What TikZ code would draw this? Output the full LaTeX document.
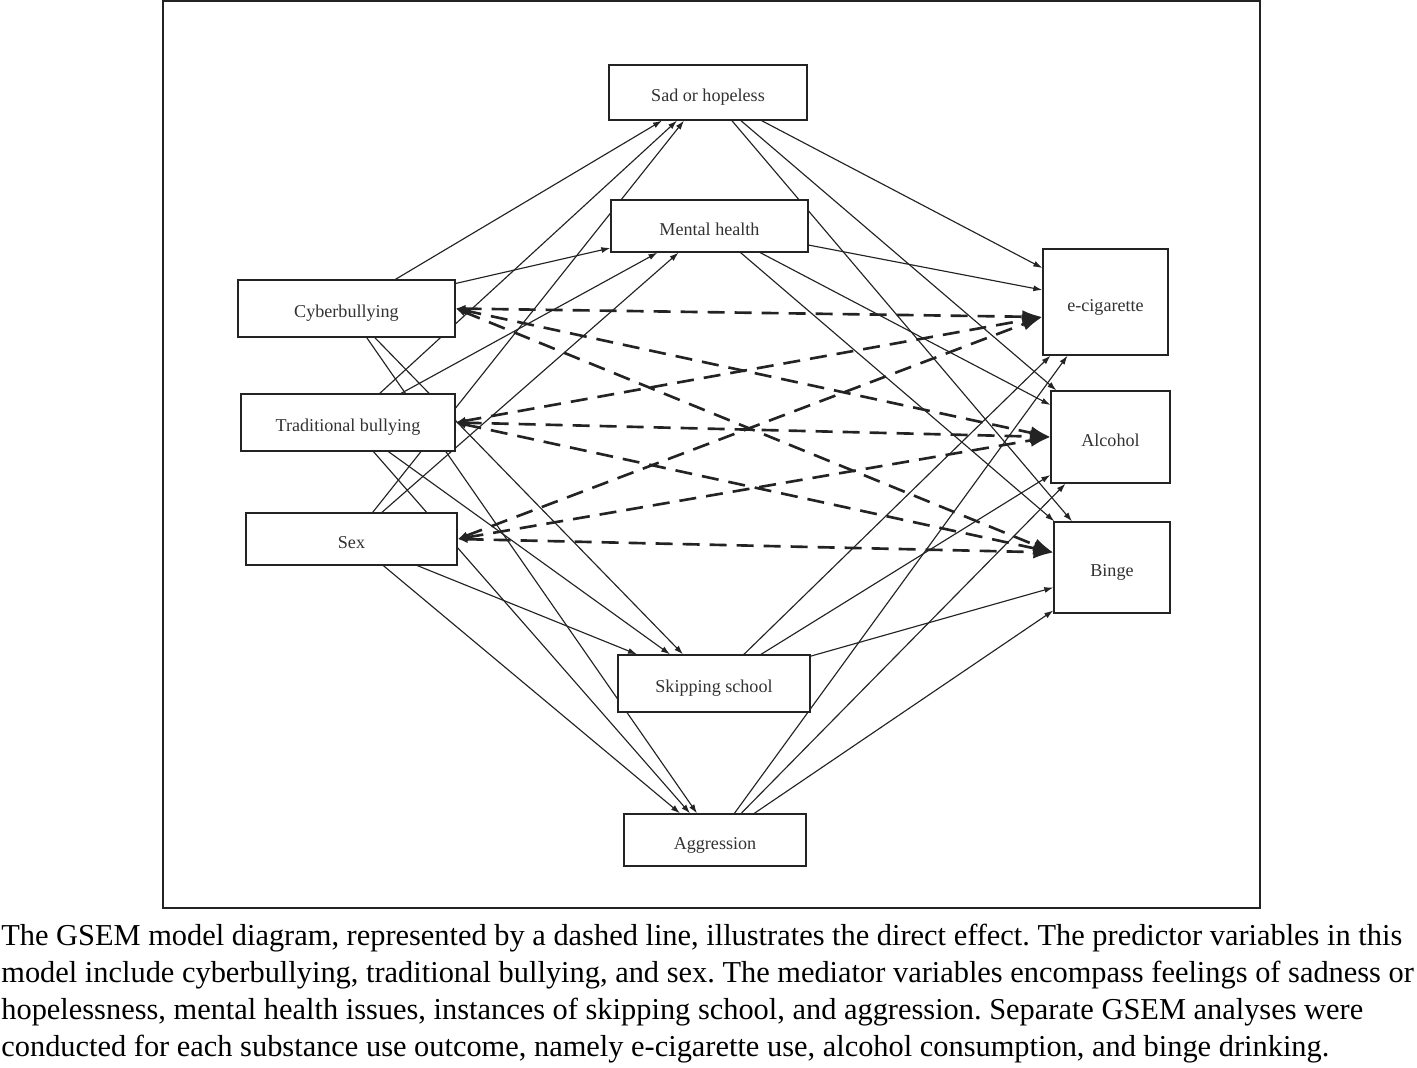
\documentclass[tikz,border=0pt]{standalone}
\usepackage{fontspec}
\setmainfont{Liberation Serif}
\frenchspacing
\usetikzlibrary{positioning, arrows.meta, calc, backgrounds}
\definecolor{GSEMink}{RGB}{35,35,35}
\definecolor{GSEMtext}{RGB}{50,50,50}
\tikzset{
  var/.style={rectangle, draw=GSEMink, line width=0.75pt, fill=white, align=center,
    inner sep=2pt, text height=13pt, text depth=2.2pt, text=GSEMtext,
    font=\fontsize{10.3}{12}\selectfont},
  effect/.style={-{Latex[length=1.8mm, width=1.2mm]}, line width=0.65pt, GSEMink},
  direct/.style={{Latex[length=2mm, width=1.6mm]}-{Latex[length=4mm, width=2.6mm]},
    line width=1.5pt, dash pattern=on 3.4mm off 2mm, GSEMink},
}

\begin{document}
\begin{tikzpicture}[x=0.2mm, y=-0.2mm]
    \useasboundingbox (0,0) rectangle (1417,1068);
    \draw[GSEMink, line width=1.1pt] (163,1) rectangle (1260,908);
    % predictors
    \node[var, minimum width=43.4mm, minimum height=11.4mm] (cyber) at (346.5,308.5) {Cyberbullying};
    \node[var, minimum width=42.8mm, minimum height=11.4mm] (trad) at (348,422.5) {Traditional bullying};
    \node[var, minimum width=42.2mm, minimum height=10.4mm] (sex) at (351.5,539) {Sex};
    % mediators
    \node[var, minimum width=39.6mm, minimum height=11mm] (sad) at (708,92.5) {Sad or hopeless};
    \node[var, minimum width=39.4mm, minimum height=10.4mm] (mh) at (709.5,226) {Mental health};
    \node[var, minimum width=38.4mm, minimum height=11.4mm] (skip) at (714,683.5) {Skipping school};
    \node[var, minimum width=36.4mm, minimum height=10.4mm] (agg) at (715,840) {Aggression};
    % outcomes
    \node[var, minimum width=25mm, minimum height=21.2mm] (ecig) at (1105.5,302) {e-cigarette};
    \node[var, minimum width=23.8mm, minimum height=18.4mm] (alc) at (1110.5,437) {Alcohol};
    \node[var, minimum width=23.2mm, minimum height=18.2mm] (binge) at (1112,567.5) {Binge};
    \begin{scope}[on background layer]
      % predictors to mediators
      \draw[effect] (cyber.center) -- ($(sad.south)+(-46,0)$);
      \draw[effect] (trad.center) -- ($(sad.south)+(-31,0)$);
      \draw[effect] (sex.center) -- ($(sad.south)+(-24,0)$);
      \draw[effect] (cyber.center) -- ($(mh.west)+(0,22)$);
      \draw[effect] (trad.center) -- ($(mh.south)+(-52,0)$);
      \draw[effect] (sex.center) -- ($(mh.south)+(-31,0)$);
      \draw[effect] (sex.center) -- ($(skip.north)+(-77,0)$);
      \draw[effect] (trad.center) -- ($(skip.north)+(-44,0)$);
      \draw[effect] (cyber.center) -- ($(skip.north)+(-31,0)$);
      \draw[effect] (sex.center) -- ($(agg.north)+(-35,0)$);
      \draw[effect] (trad.center) -- ($(agg.north)+(-25,0)$);
      \draw[effect] (cyber.center) -- ($(agg.north)+(-18,0)$);
      % mediators to outcomes
      \draw[effect] (sad.center) -- ($(ecig.west)+(0,-34)$);
      \draw[effect] (mh.center) -- ($(ecig.west)+(0,-12)$);
      \draw[effect] (skip.center) -- ($(ecig.south)+(-55,0)$);
      \draw[effect] (agg.center) -- ($(ecig.south)+(-38,0)$);
      \draw[effect] (sad.center) -- ($(alc.north west)+(6,0)$);
      \draw[effect] (mh.center) -- ($(alc.west)+(0,-32)$);
      \draw[effect] (skip.center) -- ($(alc.west)+(0,38)$);
      \draw[effect] (agg.center) -- ($(alc.south)+(-45,0)$);
      \draw[effect] (sad.center) -- ($(binge.north)+(-40,0)$);
      \draw[effect] (mh.center) -- ($(binge.north west)+(1,0)$);
      \draw[effect] (skip.center) -- ($(binge.west)+(0,20)$);
      \draw[effect] (agg.center) -- ($(binge.west)+(0,43)$);
    \end{scope}
    % direct effects
    \draw[direct] (cyber.east) -- ($(ecig.west)+(0,15)$);
    \draw[direct] (cyber.east) -- (alc.west);
    \draw[direct] (cyber.east) -- ($(binge.west)+(0,-15)$);
    \draw[direct] (trad.east) -- ($(ecig.west)+(0,15)$);
    \draw[direct] (trad.east) -- (alc.west);
    \draw[direct] (trad.east) -- ($(binge.west)+(0,-15)$);
    \draw[direct] (sex.east) -- ($(ecig.west)+(0,15)$);
    \draw[direct] (sex.east) -- (alc.west);
    \draw[direct] (sex.east) -- ($(binge.west)+(0,-15)$);
    % caption
    \node[anchor=north west, inner sep=0pt, align=left, text=black,
      font=\fontsize{17.3}{21}\selectfont] (caption) at (1,924)
      {The GSEM model diagram, represented by a dashed line, illustrates the direct effect. The predictor variables in this\\
       model include cyberbullying, traditional bullying, and sex. The mediator variables encompass feelings of sadness or\\
       hopelessness, mental health issues, instances of skipping school, and aggression. Separate GSEM analyses were\\
       conducted for each substance use outcome, namely e-cigarette use, alcohol consumption, and binge drinking.};
\end{tikzpicture}
\end{document}
